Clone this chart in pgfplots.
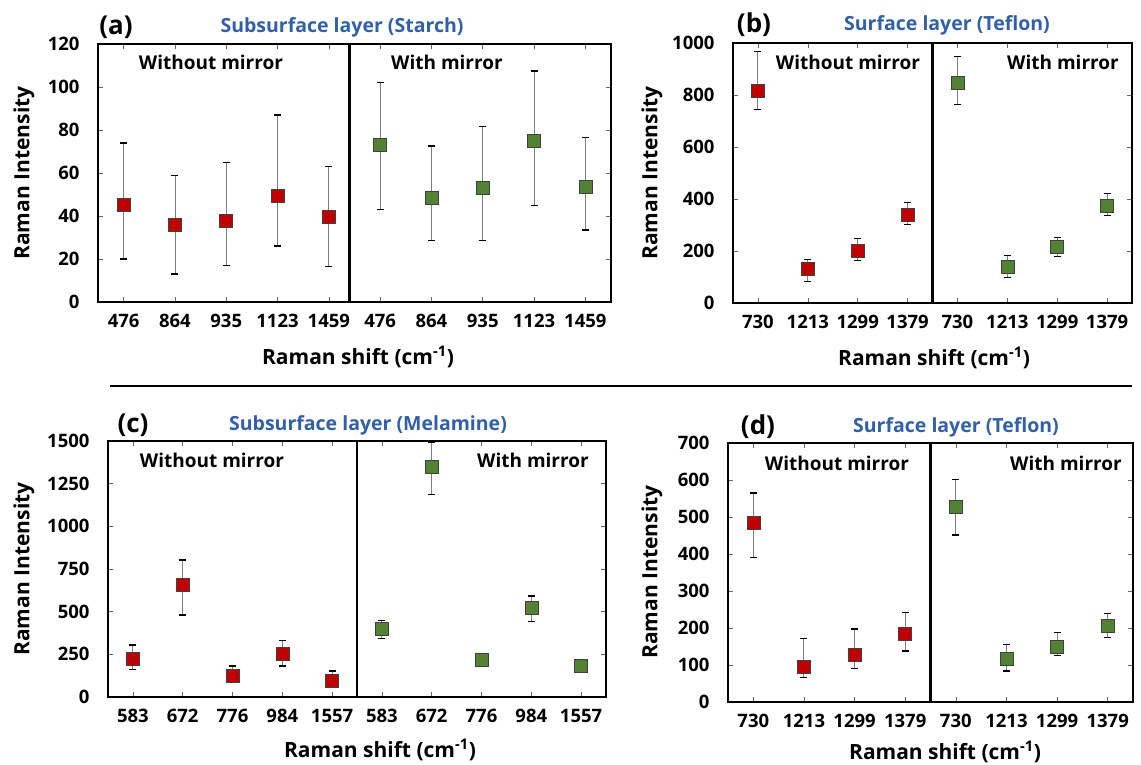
\documentclass[border=0pt]{standalone}
\usepackage{fontspec}
\setmainfont{Open Sans}
\usepackage{pgfplots}
\usepackage{pgfplotstable}
\pgfplotsset{compat=1.18}
\definecolor{myred}{HTML}{C00000}
\definecolor{mygreen}{HTML}{548235}
\definecolor{myblue}{RGB}{50,95,170}

% panel (a)
\pgfplotstableread{
x y ep em
0 45 29 25
1 36 23 23
2 38 27 21
3 49.5 37.5 23.5
4 39.5 23.5 23
}\aRed
\pgfplotstableread{
x y ep em
5 73 29 30
6 48.5 24 20
7 53 28.5 24.5
8 75 32.5 30
9 53.5 23 20
}\aGreen
% panel (b)
\pgfplotstableread{
x y ep em
0 815 153 71
1 130 36 48
2 199 49 35
3 338 48 37
}\bRed
\pgfplotstableread{
x y ep em
4 847 102 83
5 138 45 39
6 217 35 39
7 373 47 37
}\bGreen
% panel (c)
\pgfplotstableread{
x y ep em
0 225 79 62
1 656 147 175
2 123 58 36
3 256 76 75
4 93 60 33
}\cRed
\pgfplotstableread{
x y ep em
5 397 50 53
6 1347 147 161
7 219 31 28
8 521 71 80
9 181 24 21
}\cGreen
% panel (d)
\pgfplotstableread{
x y ep em
0 485 80 94
1 96 76 30
2 128 69 37
3 184 57 46
}\dRed
\pgfplotstableread{
x y ep em
4 527 74 76
5 116 40 32
6 149 38 24
7 206 34 31
}\dGreen

\pgfplotsset{
  panel/.style={
    scale only axis,
    anchor=south west,
    axis line style={line width=2.8pt, black},
    tick align=inside,
    major tick length=5pt,
    tick style={line width=0.6pt, black!60},
    ymin=0,
    /pgf/number format/assume math mode=true,
    /pgf/number format/1000 sep={},
    ticklabel style={font=\fontsize{18.5}{18.5}\selectfont\bfseries},
    yticklabel style={xshift=-15pt},
    xticklabel style={yshift=-9pt},
    clip=false,
  },
  redser/.style={only marks, mark=square*, mark size=6.5pt,
    mark options={fill=myred, draw=black!75, line width=0.6pt},
    error bars/.cd, y dir=both, y explicit,
    error bar style={black!50, line width=0.9pt},
    error mark options={rotate=90, black, mark size=3.5pt, line width=1.3pt}},
  greenser/.style={only marks, mark=square*, mark size=6.5pt,
    mark options={fill=mygreen, draw=black!75, line width=0.6pt},
    error bars/.cd, y dir=both, y explicit,
    error bar style={black!50, line width=0.9pt},
    error mark options={rotate=90, black, mark size=3.5pt, line width=1.3pt}},
}

\newcommand{\lab}{\fontsize{19}{19}\selectfont\bfseries}
\newcommand{\axlab}{\fontsize{21}{21}\selectfont\bfseries}
\newcommand{\ttl}{\fontsize{19.5}{19.5}\selectfont\bfseries}
\newcommand{\pan}{\fontsize{26}{26}\selectfont\bfseries}

\begin{document}
\begin{tikzpicture}
\useasboundingbox (0pt,0pt) rectangle (1141pt,-765pt);

% ---------- (a)
\begin{axis}[panel, at={(98pt,-302pt)}, width=513pt, height=258pt,
  xmin=-0.5, xmax=9.5, ymax=120, ytick={0,20,...,120},
  xtick={0,...,9}, xticklabels={476,864,935,1123,1459,476,864,935,1123,1459}]
  \draw[line width=2.8pt] (axis cs:4.4,0) -- (axis cs:4.4,120);
  \addplot[redser] table[x=x,y=y,y error plus=ep,y error minus=em] {\aRed};
  \addplot[greenser] table[x=x,y=y,y error plus=ep,y error minus=em] {\aGreen};
\end{axis}
\node[font=\lab] at (211pt,-62pt) {Without mirror};
\node[font=\lab] at (447pt,-62pt) {With mirror};
\node[font=\pan] at (116pt,-27pt) {(a)};
\node[font=\ttl, text=myblue] at (342pt,-27pt) {Subsurface layer (Starch)};
\node[font=\axlab, rotate=90] at (24pt,-173pt) {Raman Intensity};
\node[font=\axlab] at (358pt,-357pt) {Raman shift (cm\textsuperscript{-1})};

% ---------- (b)
\begin{axis}[panel, at={(733pt,-303pt)}, width=399pt, height=260pt,
  xmin=-0.5, xmax=7.5, ymax=1000, ytick={0,200,...,1000},
  xtick={0,...,7}, xticklabels={730,1213,1299,1379,730,1213,1299,1379}]
  \draw[line width=2.8pt] (axis cs:3.5,0) -- (axis cs:3.5,1000);
  \addplot[redser] table[x=x,y=y,y error plus=ep,y error minus=em] {\bRed};
  \addplot[greenser] table[x=x,y=y,y error plus=ep,y error minus=em] {\bGreen};
\end{axis}
\node[font=\lab] at (848pt,-62pt) {Without mirror};
\node[font=\lab] at (1063pt,-62pt) {With mirror};
\node[font=\pan] at (754pt,-25pt) {(b)};
\node[font=\ttl, text=myblue] at (947pt,-25pt) {Surface layer (Teflon)};
\node[font=\axlab, rotate=90] at (652pt,-173pt) {Raman Intensity};
\node[font=\axlab] at (934pt,-358pt) {Raman shift (cm\textsuperscript{-1})};

% separator
\draw[line width=2pt] (110pt,-386pt) -- (1132pt,-386pt);

% ---------- (c)
\begin{axis}[panel, at={(108pt,-697pt)}, width=498pt, height=256pt,
  xmin=-0.5, xmax=9.5, ymax=1500, ytick={0,250,...,1500},
  xtick={0,...,9}, xticklabels={583,672,776,984,1557,583,672,776,984,1557}]
  \draw[line width=2.8pt] (axis cs:4.5,0) -- (axis cs:4.5,1500);
  \addplot[redser] table[x=x,y=y,y error plus=ep,y error minus=em] {\cRed};
  \addplot[greenser] table[x=x,y=y,y error plus=ep,y error minus=em] {\cGreen};
\end{axis}
\node[font=\lab] at (212pt,-460pt) {Without mirror};
\node[font=\lab] at (533pt,-460pt) {With mirror};
\node[font=\pan] at (133pt,-425pt) {(c)};
\node[font=\ttl, text=myblue] at (368pt,-425pt) {Subsurface layer (Melamine)};
\node[font=\axlab, rotate=90] at (24pt,-569pt) {Raman Intensity};
\node[font=\axlab] at (380pt,-750pt) {Raman shift (cm\textsuperscript{-1})};

% ---------- (d)
\begin{axis}[panel, at={(728pt,-702pt)}, width=405pt, height=259pt,
  xmin=-0.5, xmax=7.5, ymax=700, ytick={0,100,...,700},
  xtick={0,...,7}, xticklabels={730,1213,1299,1379,730,1213,1299,1379}]
  \draw[line width=2.8pt] (axis cs:3.5,0) -- (axis cs:3.5,700);
  \addplot[redser] table[x=x,y=y,y error plus=ep,y error minus=em] {\dRed};
  \addplot[greenser] table[x=x,y=y,y error plus=ep,y error minus=em] {\dGreen};
\end{axis}
\node[font=\lab] at (837pt,-463pt) {Without mirror};
\node[font=\lab] at (1066pt,-463pt) {With mirror};
\node[font=\pan] at (758pt,-427pt) {(d)};
\node[font=\ttl, text=myblue] at (956pt,-427pt) {Surface layer (Teflon)};
\node[font=\axlab, rotate=90] at (652pt,-572pt) {Raman Intensity};
\node[font=\axlab] at (945pt,-752pt) {Raman shift (cm\textsuperscript{-1})};
\end{tikzpicture}
\end{document}
